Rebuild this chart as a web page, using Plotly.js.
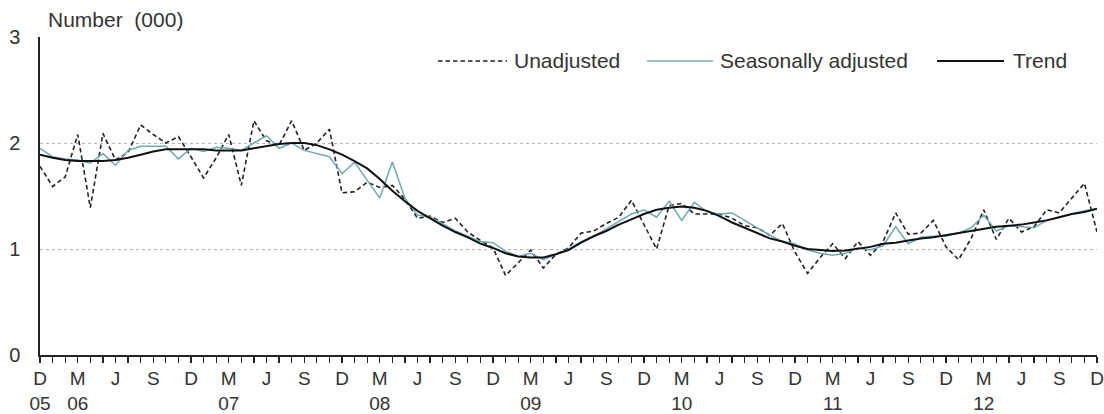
<!DOCTYPE html>
<html>
<head>
<meta charset="utf-8">
<script src="https://cdn.plot.ly/plotly-3.0.1.min.js"></script>
<style>html,body{margin:0;padding:0;background:#fff;}#chart{width:1104px;height:414px;}</style>
</head>
<body>
<div id="chart"></div>
<script>
// Monthly, Dec 2005 .. Dec 2012 (index 0 = Dec 05)
const monthLetters = ["D","J","F","M","A","M","J","J","A","S","O","N"];
const startYear = 2005;

const unadjusted = [1.78,1.59,1.68,2.08,1.39,2.09,1.84,1.91,2.17,2.08,2.00,2.06,
  1.87,1.67,1.86,2.08,1.60,2.21,2.02,1.98,2.21,1.93,2.00,2.13,
  1.53,1.54,1.63,1.58,1.60,1.47,1.29,1.31,1.25,1.29,1.16,1.08,
  1.01,0.75,0.87,0.99,0.82,0.95,1.01,1.15,1.17,1.24,1.30,1.46,
  1.23,1.00,1.41,1.43,1.33,1.33,1.33,1.29,1.22,1.20,1.13,1.24,
  0.97,0.77,0.92,1.05,0.91,1.07,0.94,1.07,1.34,1.14,1.15,1.27,
  1.02,0.90,1.10,1.37,1.09,1.29,1.16,1.21,1.37,1.34,1.48,1.62,1.16];

const seasonallyAdjusted = [1.95,1.87,1.85,1.84,1.81,1.90,1.79,1.93,1.97,1.97,1.97,1.85,
  1.95,1.92,1.96,1.95,1.93,2.00,2.07,1.95,2.00,1.93,1.90,1.87,
  1.71,1.82,1.65,1.48,1.82,1.48,1.32,1.30,1.24,1.17,1.12,1.07,
  1.06,0.98,0.93,0.96,0.90,0.95,1.00,1.07,1.12,1.19,1.26,1.33,
  1.37,1.30,1.45,1.27,1.44,1.35,1.33,1.34,1.27,1.20,1.13,1.07,
  1.05,0.99,0.96,0.94,0.96,1.01,0.99,1.03,1.21,1.05,1.11,1.12,
  1.12,1.15,1.20,1.32,1.17,1.22,1.21,1.20,1.27,1.30,1.33,1.36,1.38];

const trend = [1.89,1.86,1.84,1.83,1.83,1.83,1.84,1.86,1.89,1.92,1.94,1.94,
  1.94,1.94,1.93,1.93,1.93,1.95,1.97,1.99,2.00,2.00,1.98,1.94,
  1.89,1.83,1.76,1.66,1.55,1.45,1.36,1.29,1.22,1.16,1.11,1.05,
  1.01,0.96,0.93,0.92,0.92,0.95,0.99,1.06,1.12,1.17,1.23,1.28,
  1.33,1.37,1.39,1.40,1.39,1.36,1.31,1.25,1.20,1.15,1.10,1.07,
  1.03,1.00,0.99,0.98,0.985,1.00,1.02,1.05,1.06,1.08,1.10,1.11,
  1.13,1.15,1.17,1.19,1.21,1.22,1.23,1.25,1.27,1.30,1.33,1.35,1.38];

const yTicks = [0,1,2,3];
const legendNames = ["Unadjusted","Seasonally adjusted","Trend"];

const n = trend.length;
const x = Array.from({length:n},(_,i)=>i);
const tickText = x.map(i=>{
  if (i % 3 !== 0) return "";
  const m = monthLetters[i % 12];
  const yr = startYear + Math.floor((i + 11) / 12);
  const absMonth = (11 + i) % 12; // 0=Jan
  let yrLbl = "";
  if (i === 0) yrLbl = "05";
  else if (absMonth === 2 && i < n-1) yrLbl = String(yr).slice(2);
  return m + "<br>" + (yrLbl || " ");
});

const teal = "#6fa9b3";
const dashPat = "4.5px,3px";
const traces = [
  {x:x, y:unadjusted, type:"scatter", mode:"lines", name:legendNames[0],
   line:{color:"#222", width:1.6, dash:dashPat}},
  {x:x, y:seasonallyAdjusted, type:"scatter", mode:"lines", name:legendNames[1],
   line:{color:teal, width:1.5}},
  {x:x, y:trend, type:"scatter", mode:"lines", name:legendNames[2],
   line:{color:"#111", width:2}}
];

const L = 40, R = 7, W = 1104 - L - R;
const font = {family:"Liberation Sans, Arial, sans-serif", color:"#333"};
const legY = 61;
const ly = (355-legY)/318;
const px = v => (v-L)/W;
const layout = {
  width:1104, height:414,
  margin:{l:L, r:R, t:37, b:59},
  paper_bgcolor:"#fff", plot_bgcolor:"#fff",
  showlegend:false,
  font:Object.assign({size:21}, font),
  xaxis:{range:[0,84], tickvals:x, ticktext:tickText, ticks:"outside", ticklen:6,
    tickwidth:1.2, tickcolor:"#222", showline:true, linecolor:"#222", linewidth:1.6,
    showgrid:false, zeroline:false, tickangle:0, ticklabeloverflow:"allow",
    tickfont:Object.assign({size:19}, font)},
  yaxis:{range:[0,3], tickvals:yTicks, ticktext:yTicks.map(String), ticks:"",
    ticklabelstandoff:14, showline:true, linecolor:"#222", linewidth:1.6,
    showgrid:true, gridcolor:"#b5b5b5", gridwidth:1, griddash:"dot", zeroline:false,
    tickfont:Object.assign({size:20}, font)},
  shapes:[
    {type:"line", xref:"paper", yref:"paper", x0:px(438), x1:px(507), y0:ly, y1:ly,
     line:{color:"#222", width:1.5, dash:dashPat}},
    {type:"line", xref:"paper", yref:"paper", x0:px(647), x1:px(713), y0:ly, y1:ly,
     line:{color:teal, width:1.5}},
    {type:"line", xref:"paper", yref:"paper", x0:px(937), x1:px(1004), y0:ly, y1:ly,
     line:{color:"#111", width:1.8}}
  ],
  annotations:[
    {text:legendNames[0], xref:"paper", yref:"paper", x:px(512), y:ly,
     xanchor:"left", yanchor:"middle", showarrow:false, font:Object.assign({size:21}, font)},
    {text:legendNames[1], xref:"paper", yref:"paper", x:px(718), y:ly,
     xanchor:"left", yanchor:"middle", showarrow:false, font:Object.assign({size:21}, font)},
    {text:legendNames[2], xref:"paper", yref:"paper", x:px(1011), y:ly,
     xanchor:"left", yanchor:"middle", showarrow:false, font:Object.assign({size:21}, font)},
    {text:"Number  (000)", xref:"paper", yref:"paper", x:px(46), y:(355-20)/318,
     xanchor:"left", yanchor:"middle", showarrow:false, font:Object.assign({size:21}, font)}
  ]
};

Plotly.newPlot("chart", traces, layout, {staticPlot:true, displayModeBar:false});
</script>
</body>
</html>
